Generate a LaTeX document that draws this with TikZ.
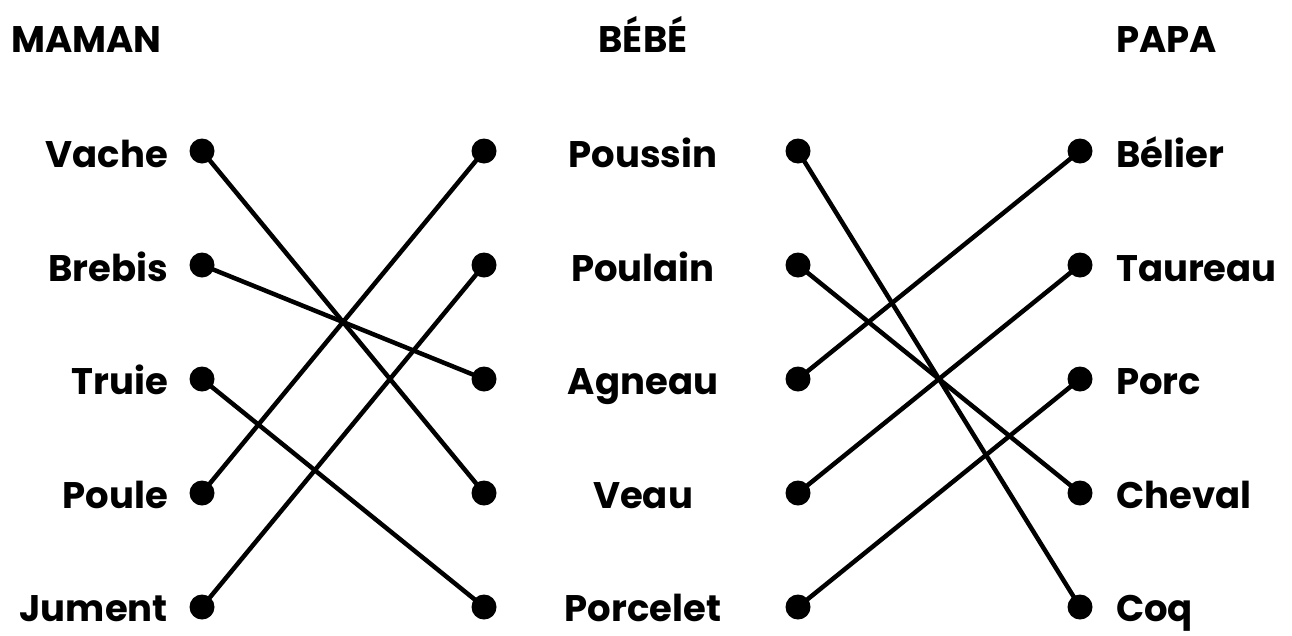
\documentclass[tikz,border=0pt]{standalone}
\usepackage{fontspec}
\setmainfont{Poppins}
\begin{document}
\begin{tikzpicture}[x=1pt,y=-1pt,
  lbl/.style={font=\fontsize{37}{40}\selectfont\bfseries, inner sep=0pt},
  lleft/.style={lbl, anchor=base east},
  lmid/.style={lbl, anchor=base},
  lright/.style={lbl, anchor=base west},
  dot/.style={circle, fill=black, minimum size=25pt, inner sep=0pt},
  link/.style={line width=4.5pt}]
\useasboundingbox (0,0) rectangle (1292,635);
% headers
\node[lbl, anchor=base west] (hm) at (11,52) {MAMAN};
\node[lmid] (hb) at (643,52) {BÉBÉ};
\node[lbl, anchor=base west] (hp) at (1116,52) {PAPA};
% rows
\foreach \i/\y in {1/151,2/265,3/379,4/493,5/607}{
  \node[dot] (a\i) at (202,\y) {};
  \node[dot] (b\i) at (484,\y) {};
  \node[dot] (c\i) at (798,\y) {};
  \node[dot] (d\i) at (1080,\y) {};
}
\node[lleft] (t1) at (168,167) {Vache};
\node[lleft] (t2) at (168,281) {Brebis};
\node[lleft] (t3) at (168,394) {Truie};
\node[lleft] (t4) at (168,508) {Poule};
\node[lleft] (t5) at (168,621) {Jument};
\node[lmid] (m1) at (643,167) {Poussin};
\node[lmid] (m2) at (643,281) {Poulain};
\node[lmid] (m3) at (643,394) {Agneau};
\node[lmid] (m4) at (643,508) {Veau};
\node[lmid] (m5) at (643,621) {Porcelet};
\node[lright] (r1) at (1116,167) {Bélier};
\node[lright] (r2) at (1116,281) {Taureau};
\node[lright] (r3) at (1116,394) {Porc};
\node[lright] (r4) at (1116,508) {Cheval};
\node[lright] (r5) at (1116,621) {Coq};
% links
\draw[link] (a1.center) -- (b4.center);
\draw[link] (a2.center) -- (b3.center);
\draw[link] (a3.center) -- (b5.center);
\draw[link] (a4.center) -- (b1.center);
\draw[link] (a5.center) -- (b2.center);
\draw[link] (c1.center) -- (d5.center);
\draw[link] (c2.center) -- (d4.center);
\draw[link] (c3.center) -- (d1.center);
\draw[link] (c4.center) -- (d2.center);
\draw[link] (c5.center) -- (d3.center);
\end{tikzpicture}
\end{document}
